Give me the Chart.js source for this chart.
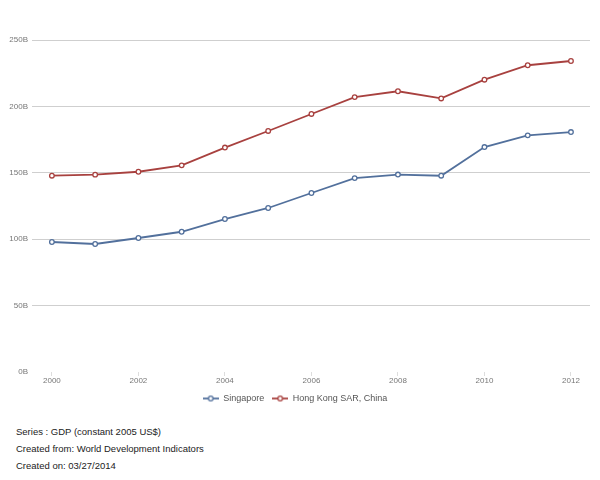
<!DOCTYPE html>
<html><head><meta charset="utf-8">
<script src="https://cdn.jsdelivr.net/npm/chart.js@4/dist/chart.umd.min.js"></script>
<style>
html,body{margin:0;padding:0;background:#fff;width:600px;height:480px;overflow:hidden;font-family:Arial,"Liberation Sans",sans-serif}
#wrap{position:absolute;left:0;top:0;width:600px;height:415px}
.foot{position:absolute;left:16px;font-size:9.5px;color:#222}
</style></head><body>
<div id="wrap"><canvas id="c" width="600" height="413"></canvas></div>
<div class="foot" style="top:426px">Series : GDP (constant 2005 US$)</div>
<div class="foot" style="top:443px">Created from: World Development Indicators</div>
<div class="foot" style="top:460px">Created on: 03/27/2014</div>
<script>
const years = [2000,2001,2002,2003,2004,2005,2006,2007,2008,2009,2010,2011,2012];
const singapore = [97.9,96.4,100.9,105.6,115.2,123.5,134.8,146.0,148.7,147.8,169.4,178.2,180.7];
const hongKong = [147.8,148.6,150.8,155.6,169.0,181.5,194.3,207.0,211.4,206.0,220.1,231.0,234.2];
const yTicks = [0,50,100,150,200,250];
const xTicks = [2000,2002,2004,2006,2008,2010,2012];

function marker(color){
  const c=document.createElement('canvas');c.width=16;c.height=8;
  const g=c.getContext('2d');
  g.strokeStyle=color;g.lineWidth=1.8;g.beginPath();g.moveTo(0,4);g.lineTo(16,4);g.stroke();
  g.fillStyle='#fff';g.lineWidth=1.3;g.beginPath();g.arc(8,4,2.3,0,Math.PI*2);g.fill();g.stroke();
  return c;
}
const blue='#52709c', red='#a8413f';
new Chart(document.getElementById('c'),{
  type:'line',
  data:{datasets:[
    {label:'Singapore',data:years.map((y,i)=>({x:y,y:singapore[i]})),borderColor:blue,backgroundColor:'#fff',borderWidth:1.8,pointRadius:2.3,pointBorderWidth:1.3,pointBackgroundColor:'#fff',pointBorderColor:blue,tension:0,pointStyle:'circle'},
    {label:'Hong Kong SAR, China',data:years.map((y,i)=>({x:y,y:hongKong[i]})),borderColor:red,backgroundColor:'#fff',borderWidth:1.8,pointRadius:2.3,pointBorderWidth:1.3,pointBackgroundColor:'#fff',pointBorderColor:red,tension:0,pointStyle:'circle'}
  ]},
  options:{
    responsive:false,animation:false,
    layout:{padding:{top:40,right:10,left:0,bottom:0}},
    plugins:{
      tooltip:{enabled:false},
      legend:{position:'bottom',labels:{usePointStyle:true,pointStyleWidth:16,font:{size:9,family:'Arial'},color:'#555',padding:8,boxWidth:16,boxHeight:8,
        generateLabels(chart){return chart.data.datasets.map((d,i)=>({text:d.label,pointStyle:marker(d.borderColor),fillStyle:'#fff',strokeStyle:d.borderColor,lineWidth:0,datasetIndex:i,fontColor:'#555'}));}}}
    },
    scales:{
      x:{type:'linear',min:1999.54,max:2012.44,
        afterBuildTicks(s){s.ticks=xTicks.map(v=>({value:v}));},
        afterFit(s){s.height=14;},
        grid:{drawOnChartArea:false,drawTicks:true,tickLength:4,color:'#ddd'},border:{display:false},
        ticks:{font:{size:8,family:'Arial'},color:'#777',padding:0,callback:v=>String(v),maxRotation:0}},
      y:{min:0,max:250,
        afterBuildTicks(s){s.ticks=yTicks.map(v=>({value:v}));},
        afterFit(s){s.width=32;},
        grid:{color:c=>c.tick&&c.tick.value===0?'rgba(0,0,0,0)':'#cfcfcf',drawTicks:false},border:{display:false},
        ticks:{font:{size:8,family:'Arial'},color:'#777',padding:4,callback:v=>v+'B'}}
    }
  }
});
</script></body></html>
